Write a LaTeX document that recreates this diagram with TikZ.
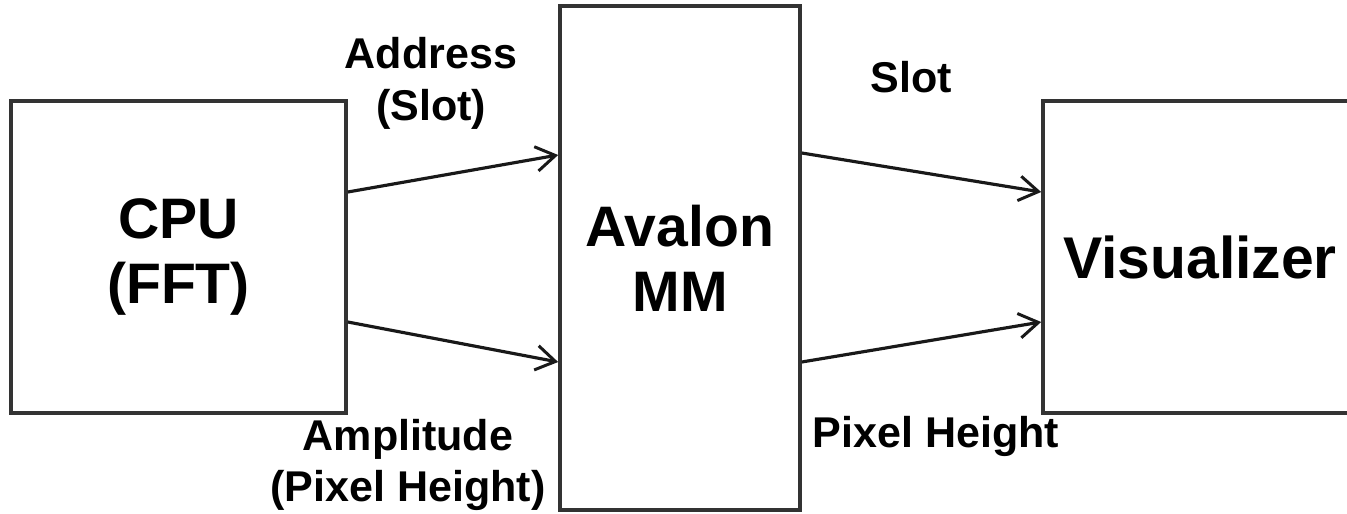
\documentclass[tikz,border=0pt]{standalone}
\usepackage{fontspec}
\setmainfont{Liberation Sans}
\usetikzlibrary{arrows.meta}
\begin{document}
\begin{tikzpicture}[
		x=0.02cm, y=-0.02cm,
		block/.style={draw=black!80, line width=2.1pt, inner sep=0pt, align=center,
				font=\bfseries\fontsize{32.5}{37}\selectfont},
		sig/.style={align=center, font=\bfseries\fontsize{24.5}{29.5}\selectfont},
		arr/.style={draw=black!90, line width=1.8pt, -{Straight Barb[length=11pt,width=14pt,line width=1.7pt]}}
	]
	\useasboundingbox (0,0) rectangle (1347,514);
	\node[block, minimum width=335*0.02cm, minimum height=312*0.02cm] (cpu) at (178.5,257) {CPU\\(FFT)};
	\node[block, minimum width=240*0.02cm, minimum height=504*0.02cm] (avalon) at (680,258) {Avalon\\MM};
	\node[block, minimum width=314*0.02cm, minimum height=312*0.02cm,
		font=\bfseries\fontsize{33.5}{40}\selectfont] (vis) at (1200,257) {Visualizer};
	\draw[arr] (cpu.east |- 0,192) -- (avalon.west |- 0,155);
	\draw[arr] (cpu.east |- 0,322) -- (avalon.west |- 0,362);
	\draw[arr] (avalon.east |- 0,153) -- (vis.west |- 0,192);
	\draw[arr] (avalon.east |- 0,362) -- (vis.west |- 0,322);
	\node[sig] (addr) at (431,83) {Address\\(Slot)};
	\node[sig] (ampl) at (408,465) {Amplitude\\(Pixel Height)};
	\node[sig] (slot) at (911,77) {Slot};
	\node[sig] (pix) at (936,436) {Pixel Height};
\end{tikzpicture}
\end{document}
